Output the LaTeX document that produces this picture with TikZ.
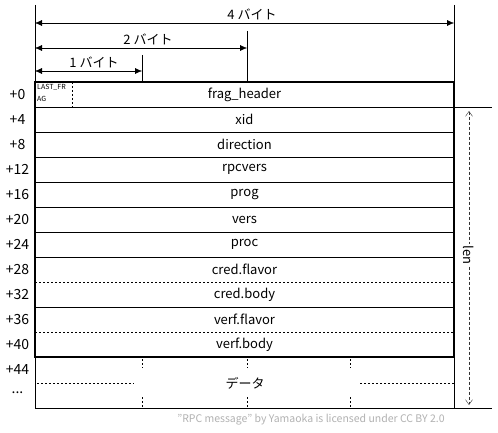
\documentclass[tikz,border=0pt]{standalone}
\usepackage{fontspec}
\setmainfont{Noto Sans CJK JP}
\usetikzlibrary{arrows.meta,positioning}

\begin{document}
\begin{tikzpicture}[x=1pt,y=-1pt]
                    \tikzstyle{every node}+=[inner sep=0pt]
                    \tikzstyle{field}=[font=\fontsize{13}{15}\selectfont]
                    \tikzstyle{offset}=[font=\fontsize{14}{16}\selectfont]
                    \tikzstyle{bytearrow}=[{Latex[length=7pt,width=6pt]}-{Latex[length=7pt,width=6pt]}]
                    \tikzstyle{lenarrow}=[{Straight Barb[length=5pt,width=7pt]}-{Straight Barb[length=5pt,width=7pt]}, dash pattern=on 3pt off 2pt]
                    \tikzstyle{sep}=[dash pattern=on 2pt off 2pt]
                    \useasboundingbox (0,0) rectangle (498,433);
                    \fill [white] (0,0) rectangle (498,433);
                    \coordinate (tl) at (35,5);
                    \coordinate (tr) at (454,5);
                    \coordinate (bl) at (35,408);
                    \coordinate (br) at (454,408);
                    \draw [black] (tl) -- (bl);
                    \draw [black] (tr) -- (br);
                    \draw [black] (bl) -- (492,408);
                    \draw [black] (454,107) -- (492,107);
                    \foreach \y in {107,132,...,257,307}
                      \draw [black] (35,\y) -- (454,\y);
                    \foreach \y in {282,332}
                      \draw [black, sep] (35,\y) -- (454,\y);
                    \draw [black, line width=2pt] (35,82) rectangle (454,357);
                    \foreach \off/\name [count=\i from 0] in {0/frag\_header,4/xid,8/direction,12/rpcvers,16/prog,20/vers,24/proc,28/cred.flavor,32/cred.body,36/verf.flavor,40/verf.body} {
                      \node [field] (f\i) at (244.5,{94.5+25*\i}) {\name};
                      \node [offset] (o\i) at (17.5,{94.5+25*\i}) {+\off};
                    }
                    \node [offset] (o11) at (17.5,369.5) {+44};
                    \node [offset] (o12) at (17.5,393) {...};
                    \node [field] (data) at (245,383) {データ};
                    \node [font=\fontsize{7}{12}\selectfont, align=left, anchor=north west] (lastfrag) at (37,84) {LAST\_FR\\AG};
                    \draw [black, sep] (72,82) -- (72,107);
                    \foreach \x in {142,247,350} {
                      \draw [black, sep] (\x,359) -- (\x,368);
                      \draw [black, sep] (\x,397) -- (\x,407);
                    }
                    \draw [black, sep] (37,383) -- (134,383);
                    \draw [black, sep] (360,383) -- (454,383);
                    \coordinate (b4l) at (35,23);
                    \coordinate (b4r) at (454,23);
                    \coordinate (b2l) at (35,48);
                    \coordinate (b2r) at (247,48);
                    \coordinate (b1l) at (35,71);
                    \coordinate (b1r) at (142,71);
                    \draw [black] (247,31) -- (247,82);
                    \draw [black] (142,55) -- (142,82);
                    \draw [black, bytearrow] (b4l) -- (b4r);
                    \draw [black, bytearrow] (b2l) -- (b2r);
                    \draw [black, bytearrow] (b1l) -- (b1r);
                    \node [field] (byte4) at (252,14) {4 バイト};
                    \node [field] (byte2) at (148,39) {2 バイト};
                    \node [field] (byte1) at (94,62) {1 バイト};
                    \coordinate (lentop) at (469,111);
                    \coordinate (lenbot) at (469,405);
                    \draw [black!80, lenarrow] (lentop) -- (lenbot);
                    \node [field, fill=white, inner sep=2pt, rotate=-90] (len) at (469,255) {len};
                    \node [font=\fontsize{10.5}{12}\selectfont, text=black!30] (credit) at (311,420) {"RPC message" by Yamaoka is licensed under CC BY 2.0};
                \end{tikzpicture}
\end{document}
